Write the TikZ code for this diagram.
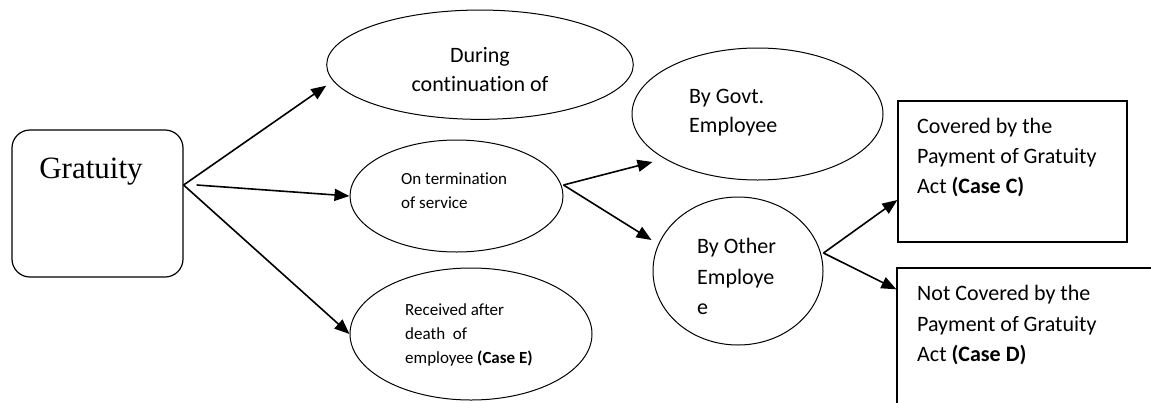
\documentclass[tikz,border=0pt]{standalone}
\usepackage{fontspec}
\setmainfont{Carlito}[Ligatures=NoCommon]
\newfontfamily\grfont{Liberation Serif}
\usetikzlibrary{arrows.meta,calc,shapes.geometric}
\newcommand\topst{\rule{0pt}{1em}}
\begin{document}
\begin{tikzpicture}[x=1pt,y=-1pt,
  oval/.style={draw=black, line width=1pt, ellipse, inner sep=0pt},
  boxnode/.style={draw=black, line width=1.3pt, rectangle, inner sep=0pt},
  conn/.style={draw=black, line width=1.6pt, -{Triangle[length=15pt,width=12pt]}},
  txt/.style={inner sep=0pt, align=left, anchor=north west},
  tbig/.style={font=\fontsize{22}{30}\selectfont},
  tsmall/.style={font=\fontsize{17}{23.5}\selectfont}]
\path[use as bounding box, fill=white] (0,0) rectangle (1151,402);
\clip (0,0) rectangle (1151,402);

% shapes
\node[draw=black, line width=1.2pt, rounded corners=18pt, inner sep=0pt,
      minimum width=171pt, minimum height=147pt] (g) at (97.5,203.5) {};
\node[oval, minimum width=306.6pt, minimum height=109.3pt] (during) at (480,64.7) {};
\node[oval, minimum width=213pt, minimum height=112pt] (term) at (456.5,196) {};
\node[oval, minimum width=242pt, minimum height=132pt] (rec) at (471,334) {};
\node[oval, minimum width=251pt, minimum height=132pt] (govt) at (757.5,114) {};
\node[oval, minimum width=170pt, minimum height=148pt] (other) at (738,271) {};
\node[boxnode, minimum width=229pt, minimum height=141pt] (boxc) at (1012.5,171.5) {};
\node[boxnode, minimum width=270pt, minimum height=160pt] (boxd) at (1032,348) {};

% texts
\node[inner sep=0pt, anchor=base, font=\grfont\fontsize{31}{36}\selectfont] (grtxt) at (91,178) {Gratuity};
\node[txt, align=center, anchor=north, font=\fontsize{22}{29}\selectfont] (duringtxt) at (480,40) {\topst During\\continuation of};
\node[txt, tsmall] (termtxt) at (401,167.3) {\topst On termination\\of service};
\node[txt, font=\fontsize{17}{24}\selectfont] (rectxt) at (405,298) {\topst Received after\\death~ of\\employee {\bfseries (Case E)}};
\node[txt, font=\fontsize{22}{28.5}\selectfont] (govtxt) at (689,81.3) {\topst By Govt.\\Employee};
\node[txt, font=\fontsize{22}{30.5}\selectfont] (othtxt) at (697,231.3) {\topst By Other\\Employe\\e};
\node[txt, tbig] (ctxt) at (917,111.3) {\topst Covered by the\\Payment of Gratuity\\Act {\bfseries (Case C)}};
\node[txt, font=\fontsize{22}{30.8}\selectfont] (dtxt) at (917,278) {\topst Not Covered by the\\Payment of Gratuity\\Act {\bfseries (Case D)}};

% connectors
\coordinate (gs) at ($(g.east)+(0,-18.5)$);
\draw[conn] (gs) -- ($(during.west)+(0,21)$);
\draw[conn] ($(g.east)+(13,-18.5)$) -- (term.west);
\draw[conn] (gs) -- (rec.west);
\coordinate (ts) at ($(term.east)+(0,-11)$);
\draw[conn] (ts) -- ($(govt.west)+(21,48)$);
\draw[conn] (ts) -- ($(other.west)+(-1,-31)$);
\coordinate (os) at ($(other.east)+(0,-18)$);
\draw[conn] (os) -- ($(boxc.west)+(0,28.5)$);
\draw[conn] (os) -- ($(boxd.north west)+(0,22)$);
\end{tikzpicture}
\end{document}
